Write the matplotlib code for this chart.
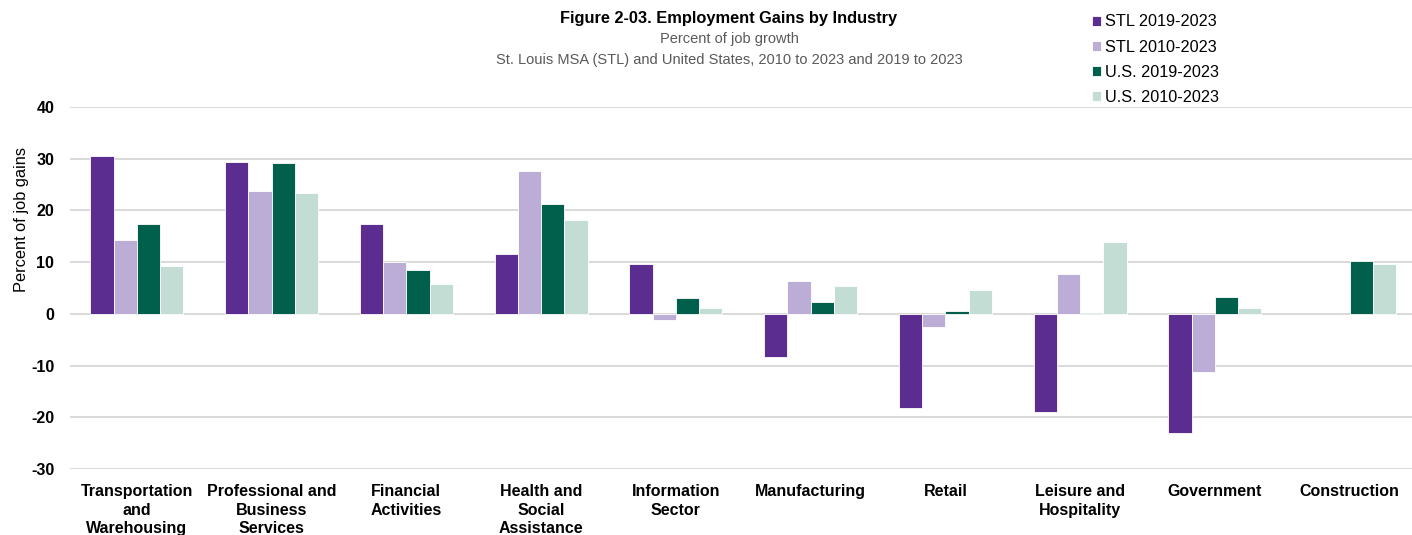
import numpy as np
import matplotlib

matplotlib.use("Agg")

import matplotlib.pyplot as plt

plt.rcParams["font.family"] = ["Liberation Sans", "DejaVu Sans"]

# ------------------ data ------------------

industries = [
    "Transportation\nand\nWarehousing",
    "Professional and\nBusiness\nServices",
    "Financial\nActivities",
    "Health and\nSocial\nAssistance",
    "Information\nSector",
    "Manufacturing",
    "Retail",
    "Leisure and\nHospitality",
    "Government",
    "Construction",
]

stl_2019_2023 = [30.6, 29.4, 17.3, 11.5, 9.6, -8.3, -18.3, -19.0, -23.0, np.nan]
stl_2010_2023 = [14.3, 23.7, 10.1, 27.7, -1.2, 6.4, -2.6, 7.7, -11.2, np.nan]
us_2019_2023 = [17.4, 29.2, 8.5, 21.3, 3.0, 2.3, 0.6, 0.2, 3.3, 10.2]
us_2010_2023 = [9.3, 23.3, 5.8, 18.2, 1.2, 5.4, 4.6, 13.8, 1.1, 9.7]

series = [
    ("STL 2019-2023", stl_2019_2023, "#5C2D91"),
    ("STL 2010-2023", stl_2010_2023, "#BCADD6"),
    ("U.S. 2019-2023", us_2019_2023, "#00604C"),
    ("U.S. 2010-2023", us_2010_2023, "#C3DDD5"),
]

yticks = [-30, -20, -10, 0, 10, 20, 30, 40]

# ------------------ figure ------------------

W, H = 1412, 535
fig = plt.figure(figsize=(W / 100, H / 100), dpi=100)

left, right = 69.5, 1417
top, bottom = 107, 469
ax = fig.add_axes([left / W, 1 - bottom / H, (right - left) / W, (bottom - top) / H])

x = np.arange(len(industries))
width = 0.173
offsets = (np.arange(len(series)) - 1.5) * width

for (name, values, color), off in zip(series, offsets):
    ax.bar(x + off, values, width, color=color, edgecolor="white",
           linewidth=0.6, label=name, zorder=3)

ax.set_xlim(-0.5, len(industries) - 0.5)
ax.set_ylim(-30, 40)
ax.set_yticks(yticks)
ax.set_yticklabels([str(t) for t in yticks], fontsize=11.5, fontweight="bold")
ax.set_xticks(x)
ax.set_xticklabels(industries, fontsize=11.5, fontweight="bold", linespacing=1.3)
ax.tick_params(axis="both", length=0)
ax.tick_params(axis="x", pad=11)
ax.tick_params(axis="y", pad=11)

ax.grid(axis="y", color="#D9D9D9", linewidth=1.4, zorder=0)
for spine in ax.spines.values():
    spine.set_visible(False)

fig.text(22 / W, 1 - 220 / H, "Percent of job gains", rotation=90,
         ha="center", va="center", fontsize=11.8, color="#000000")

# titles
cx = 729 / W
fig.text(cx, 1 - 18 / H, "Figure 2-03. Employment Gains by Industry",
         ha="center", va="center", fontsize=11.8, fontweight="bold")
fig.text(cx, 1 - 39 / H, "Percent of job growth",
         ha="center", va="center", fontsize=10.5, color="#595959")
fig.text(cx, 1 - 60 / H, "St. Louis MSA (STL) and United States, 2010 to 2023 and 2019 to 2023",
         ha="center", va="center", fontsize=10.5, color="#595959")

# legend
ax.legend(loc="upper left", bbox_to_anchor=(1085 / W, 1 - 8 / H),
          bbox_transform=fig.transFigure, frameon=False, fontsize=11.7,
          handlelength=0.6, handleheight=0.6, handletextpad=0.25,
          labelspacing=0.62, borderaxespad=0)

fig.savefig("out.png", dpi=100)
